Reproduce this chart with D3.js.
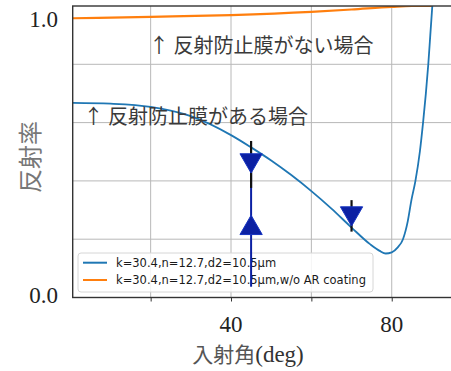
<!DOCTYPE html>
<html>
<head>
<meta charset="utf-8">
<script src="https://cdn.jsdelivr.net/npm/d3@7"></script>
<style>
  html, body { margin: 0; padding: 0; background: #fff; }
  svg { display: block; }
</style>
</head>
<body>
<div id="chart"></div>
<script>
// incidence angle (deg) and reflectance
const arAngle = [0.6, 10, 20, 30, 40, 45, 50, 55, 60, 65, 70, 74.6, 77, 78.5, 80, 81.5, 82.8, 84, 84.9, 85.9, 87, 87.8, 88.5, 89.1, 89.6, 90.1];
const arRefl  = [0.668, 0.665, 0.654, 0.622, 0.557, 0.515, 0.470, 0.420, 0.365, 0.305, 0.240, 0.183, 0.160, 0.151, 0.155, 0.172, 0.200, 0.262, 0.334, 0.400, 0.500, 0.600, 0.700, 0.800, 0.900, 1.0];
const noArAngle = [0.6, 20, 40, 60, 70, 80, 85, 90];
const noArRefl  = [0.958, 0.963, 0.969, 0.980, 0.988, 0.997, 1.0, 1.0];

// measured points (triangles), error bars and the stem
const markAngle = [45, 45, 70];
const markRefl  = [0.471, 0.238, 0.289];
const markDir   = ['down', 'up', 'down'];
const errAngle = [45, 70];
const errLo    = [0.376, 0.226];
const errHi    = [0.537, 0.334];
const stemAngle = [45];
const stemLo    = [0.037];
const stemHi    = [0.492];

const xTicks = [20, 40, 60, 80];
const xTickLabels = [40, 80];
const yTicks = [0.2, 0.4, 0.6, 0.8];
const yTickLabels = [0.0, 1.0];
const legendLabels = ['k=30.4,n=12.7,d2=10.5μm', 'k=30.4,n=12.7,d2=10.5μm,w/o AR coating'];
const colors = ['#1f77b4', '#ff7f0e'];

const W = 451, H = 371;
const svg = d3.select('#chart').append('svg').attr('width', W).attr('height', H);

const mLeft = 72.7, mTop = 6, mBottom = 297.5, mRight = 454;
const x = d3.scaleLinear().domain([0.6, 95.5]).range([mLeft, mRight]);
const y = d3.scaleLinear().domain([0, 1]).range([mBottom, mTop]);

svg.append('defs').append('clipPath').attr('id', 'clip')
  .append('rect').attr('x', mLeft).attr('y', mTop).attr('width', mRight - mLeft).attr('height', mBottom - mTop);

// grid
const grid = svg.append('g');
grid.selectAll('.gx').data(xTicks).join('line')
  .attr('x1', d => x(d)).attr('x2', d => x(d)).attr('y1', mTop).attr('y2', mBottom)
  .attr('stroke', '#b8b8b8').attr('stroke-width', 1);
grid.selectAll('.gy').data(yTicks).join('line')
  .attr('x1', mLeft).attr('x2', mRight).attr('y1', d => y(d)).attr('y2', d => y(d))
  .attr('stroke', '#b8b8b8').attr('stroke-width', 1);

// curves
const line = d3.line().x(d => x(d[0])).y(d => y(d[1])).curve(d3.curveMonotoneX);
const plot = svg.append('g').attr('clip-path', 'url(#clip)');
plot.append('path').datum(d3.zip(noArAngle, noArRefl)).attr('d', line)
  .attr('fill', 'none').attr('stroke', colors[1]).attr('stroke-width', 2.2);
plot.append('path').datum(d3.zip(arAngle, arRefl)).attr('d', line)
  .attr('fill', 'none').attr('stroke', colors[0]).attr('stroke-width', 1.8);

// frame and bottom ticks
svg.append('rect').attr('x', mLeft).attr('y', mTop).attr('width', mRight - mLeft).attr('height', mBottom - mTop)
  .attr('fill', 'none').attr('stroke', '#333').attr('stroke-width', 1.4);
svg.append('g').attr('transform', `translate(0,${mBottom})`)
  .call(d3.axisBottom(x).tickValues(xTicks).tickSize(4).tickFormat(''))
  .call(g => g.select('.domain').remove())
  .call(g => g.selectAll('line').attr('stroke', '#333'));

// legend
const lg = svg.append('g');
lg.append('rect').attr('x', 78).attr('y', 253).attr('width', 295).attr('height', 39).attr('rx', 3)
  .attr('fill', 'rgba(255,255,255,0.85)').attr('stroke', '#d6d6d6');
legendLabels.forEach((t, i) => {
  const ly = 262.7 + i * 17.3;
  lg.append('line').attr('x1', 83).attr('x2', 107).attr('y1', ly).attr('y2', ly)
    .attr('stroke', colors[i]).attr('stroke-width', 2);
  lg.append('text').attr('x', 116).attr('y', ly).attr('dy', '0.35em')
    .attr('font-family', 'DejaVu Sans, sans-serif').attr('font-size', '11.5px').attr('fill', '#1a1a1a')
    .text(t);
});

// annotation markers
const navy = '#0b20a3';
svg.selectAll('.stem').data(stemAngle).join('line')
  .attr('x1', d => x(d)).attr('x2', d => x(d))
  .attr('y1', (d, i) => y(stemLo[i])).attr('y2', (d, i) => y(stemHi[i]))
  .attr('stroke', navy).attr('stroke-width', 2);
svg.selectAll('.err').data(errAngle).join('line')
  .attr('x1', d => x(d)).attr('x2', d => x(d))
  .attr('y1', (d, i) => y(errLo[i])).attr('y2', (d, i) => y(errHi[i]))
  .attr('stroke', '#111').attr('stroke-width', 2.2);
const tri = d3.symbol(d3.symbolTriangle, 215);
svg.selectAll('.mark').data(markAngle).join('path')
  .attr('d', tri)
  .attr('transform', (d, i) => `translate(${x(d)},${y(markRefl[i])}) rotate(${markDir[i] === 'down' ? 180 : 0})`)
  .attr('fill', navy).attr('stroke', '#1533c0').attr('stroke-width', 1);

// in-plot notes
const notes = svg.append('g').attr('font-family', '"Noto Sans CJK JP", sans-serif')
  .attr('font-size', '20px').attr('fill', '#3a3a3a');
notes.append('text').attr('x', x(19.6)).attr('y', y(0.839)).text('↑ 反射防止膜がない場合');
notes.append('text').attr('x', x(3.3)).attr('y', y(0.595)).text('↑ 反射防止膜がある場合');

// tick labels
svg.selectAll('.xl').data(xTickLabels).join('text')
  .attr('x', d => x(d)).attr('y', 332).attr('text-anchor', 'middle')
  .attr('font-family', 'Liberation Serif, serif').attr('font-size', '23px').attr('fill', '#222')
  .text(d => d);
svg.selectAll('.yl').data(yTickLabels).join('text')
  .attr('x', 58).attr('y', d => y(d) + (d === 1 ? 20.5 : 5.5)).attr('text-anchor', 'end')
  .attr('font-family', 'Liberation Serif, serif').attr('font-size', '23px').attr('fill', '#222')
  .text(d => d.toFixed(1));

// axis titles
const xt = svg.append('text').attr('x', 248).attr('y', 362).attr('text-anchor', 'middle')
  .attr('font-size', '21px').attr('fill', '#555');
xt.append('tspan').attr('font-family', '"Noto Sans CJK JP", sans-serif').text('入射角');
xt.append('tspan').attr('font-family', 'Liberation Serif, serif').attr('font-size', '23px').attr('fill', '#333').text('(deg)');
svg.append('text').attr('transform', 'translate(39,157) rotate(-90)').attr('text-anchor', 'middle')
  .attr('font-family', '"Noto Sans CJK JP", sans-serif').attr('font-size', '24px').attr('fill', '#777')
  .text('反射率');
</script>
</body>
</html>
